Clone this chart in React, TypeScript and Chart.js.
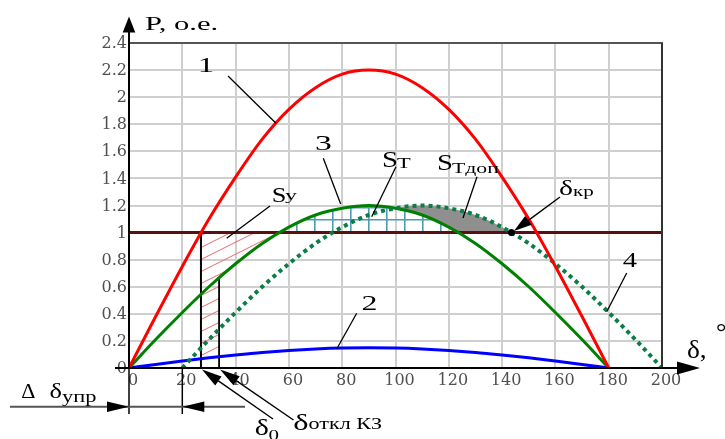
import { useEffect, useRef } from 'react';
import { Chart, registerables } from 'chart.js';
Chart.register(...registerables);

// ---- data ----
const ANGLES = [0, 10, 20, 30, 40, 50, 60, 70, 80, 90, 100, 110, 120, 130, 140, 150, 160, 170, 180];
const ANGLES_SHIFTED = [20, 30, 40, 50, 60, 70, 80, 90, 100, 110, 120, 130, 140, 150, 160, 170, 180, 190, 200];
const CURVE1_P = [0, 0.38, 0.75, 1.1, 1.41, 1.69, 1.91, 2.07, 2.17, 2.2, 2.17, 2.07, 1.91, 1.69, 1.41, 1.1, 0.75, 0.38, 0];
const CURVE2_P = [0, 0.026, 0.051, 0.075, 0.096, 0.115, 0.13, 0.141, 0.148, 0.15, 0.148, 0.141, 0.13, 0.115, 0.096, 0.075, 0.051, 0.026, 0];
const CURVE3_P = [0, 0.21, 0.41, 0.6, 0.77, 0.92, 1.04, 1.13, 1.18, 1.2, 1.18, 1.13, 1.04, 0.92, 0.77, 0.6, 0.41, 0.21, 0];
const CURVE4_P = [0, 0.21, 0.41, 0.6, 0.77, 0.92, 1.04, 1.13, 1.18, 1.2, 1.18, 1.13, 1.04, 0.92, 0.77, 0.6, 0.41, 0.21, 0];
const P_TURBINE = 1;
const DELTA_0 = 27;
const DELTA_OTKL = 33.8;
const DELTA_OTKL_TOP = 0.67;
const DELTA_KR = 143.5;
const DELTA_UPR = 20;
const X_TICKS = ['0', '20', '40', '60', '80', '100', '120', '140', '160', '180', '200'];
const Y_TICKS = ['0', '0.2', '0.4', '0.6', '0.8', '1', '1.2', '1.4', '1.6', '1.8', '2', '2.2', '2.4'];

// dataset indices
const I_RED = 0, I_DOT = 1, I_GREEN = 2, I_BLUE = 3;

function seg(ctx: CanvasRenderingContext2D, x1: number, y1: number, x2: number, y2: number, color: string, w: number) {
  ctx.beginPath();
  ctx.moveTo(x1, y1);
  ctx.lineTo(x2, y2);
  ctx.strokeStyle = color;
  ctx.lineWidth = w;
  ctx.stroke();
}
function tri(ctx: CanvasRenderingContext2D, a: number, b: number, c: number, d: number, e: number, f: number) {
  ctx.beginPath();
  ctx.moveTo(a, b);
  ctx.lineTo(c, d);
  ctx.lineTo(e, f);
  ctx.closePath();
  ctx.fillStyle = '#000';
  ctx.fill();
}
function arrow(ctx: CanvasRenderingContext2D, x1: number, y1: number, x2: number, y2: number, len: number, half: number) {
  const ang = Math.atan2(y2 - y1, x2 - x1);
  const bx = x2 - len * Math.cos(ang), by = y2 - len * Math.sin(ang);
  seg(ctx, x1, y1, bx, by, '#000', 1.4);
  tri(ctx, x2, y2, bx + half * Math.sin(ang), by - half * Math.cos(ang), bx - half * Math.sin(ang), by + half * Math.cos(ang));
}
function txt(ctx: CanvasRenderingContext2D, s: string, x: number, y: number, size: number, sx: number, align: CanvasTextAlign = 'center') {
  ctx.save();
  ctx.translate(x, y);
  ctx.scale(sx, 1);
  ctx.font = `${size}px "Liberation Serif", "Times New Roman", serif`;
  ctx.textAlign = align;
  ctx.textBaseline = 'alphabetic';
  ctx.fillStyle = '#000';
  ctx.fillText(s, 0, 0);
  ctx.restore();
}

function makePatterns() {
  const hc = document.createElement('canvas');
  hc.width = 24; hc.height = 12;
  const h = hc.getContext('2d')!;
  h.strokeStyle = '#e07a7a';
  h.lineWidth = 1.1;
  for (const off of [-12, 0, 12]) {
    h.beginPath();
    h.moveTo(-24, 24 + off);
    h.lineTo(48, -12 + off);
    h.stroke();
  }
  const gc = document.createElement('canvas');
  gc.width = 18; gc.height = 12;
  const g = gc.getContext('2d')!;
  g.strokeStyle = '#4f9bb3';
  g.lineWidth = 1.6;
  g.beginPath();
  g.moveTo(0.8, 0); g.lineTo(0.8, 12);
  g.moveTo(0, 0.8); g.lineTo(18, 0.8);
  g.stroke();
  return { hc, gc };
}

export default function App() {
  const ref = useRef<HTMLCanvasElement>(null);
  useEffect(() => {
    document.body.style.margin = '0';
    const canvas = ref.current!;
    const ctx0 = canvas.getContext('2d')!;
    const { hc, gc } = makePatterns();
    const hatch = ctx0.createPattern(hc, 'repeat')!;
    const grid = ctx0.createPattern(gc, 'repeat')!;
    grid.setTransform(new DOMMatrix([1, 0, 0, 1, 296, 219]));

    const pts = (xs: number[], ys: number[]) => xs.map((x, i) => ({ x, y: ys[i] }));

    const areas = {
      id: 'areas',
      beforeDatasetsDraw(chart: any) {
        const ctx: CanvasRenderingContext2D = chart.ctx;
        const { left, right, top, bottom } = chart.chartArea;
        const X = (v: number) => chart.scales.x.getPixelForValue(v);
        const Y = (v: number) => chart.scales.y.getPixelForValue(v);
        const y1 = Y(P_TURBINE), y0 = Y(0);
        const under = (idx: number) => {
          const meta = chart.getDatasetMeta(idx);
          const line = meta.dataset;
          line.updateControlPoints(chart.chartArea, 'x');
          const p = meta.data;
          line.path(ctx);
          ctx.lineTo(p[p.length - 1].x, y0 + 6);
          ctx.lineTo(p[0].x, y0 + 6);
          ctx.closePath();
        };
        // S_T
        ctx.save();
        ctx.beginPath(); ctx.rect(left, top, right - left, y1 - top); ctx.clip();
        ctx.beginPath(); under(I_GREEN);
        ctx.fillStyle = grid; ctx.fill();
        ctx.restore();
        // S_Tdop
        ctx.save();
        ctx.beginPath(); ctx.rect(left, top, right - left, y1 - top); ctx.clip();
        ctx.beginPath(); under(I_DOT); ctx.clip();
        ctx.beginPath(); ctx.rect(0, 0, chart.width, chart.height); under(I_GREEN); ctx.clip('evenodd');
        ctx.fillStyle = '#8f8f8f'; ctx.fillRect(left, top, right - left, bottom - top);
        ctx.restore();
        // S_y part A
        ctx.save();
        ctx.beginPath(); ctx.rect(X(DELTA_0), y1, X(DELTA_OTKL) - X(DELTA_0), y0 - y1); ctx.clip();
        ctx.beginPath(); ctx.rect(0, 0, chart.width, chart.height); under(I_BLUE); ctx.clip('evenodd');
        ctx.fillStyle = hatch; ctx.fillRect(left, top, right - left, bottom - top);
        ctx.restore();
        // S_y part B
        ctx.save();
        ctx.beginPath(); ctx.rect(X(DELTA_OTKL), y1, X(90) - X(DELTA_OTKL), y0 - y1); ctx.clip();
        ctx.beginPath(); ctx.rect(0, 0, chart.width, chart.height); under(I_GREEN); ctx.clip('evenodd');
        ctx.fillStyle = hatch; ctx.fillRect(left, top, right - left, bottom - top);
        ctx.restore();
      },
      afterDraw(chart: any) {
        const ctx: CanvasRenderingContext2D = chart.ctx;
        const { left, right, top, bottom } = chart.chartArea;
        const X = (v: number) => chart.scales.x.getPixelForValue(v);
        const Y = (v: number) => chart.scales.y.getPixelForValue(v);
        ctx.save();
        // frame
        seg(ctx, left, top, right + 1, top, '#555', 2);
        seg(ctx, right, top, right, bottom, '#333', 2);
        // axes with arrows
        seg(ctx, left, bottom, left, 31, '#000', 2);
        tri(ctx, left, 16.5, left - 6.3, 32.5, left + 6.3, 32.5);
        seg(ctx, 115, bottom, 680, bottom, '#000', 2);
        tri(ctx, 700, bottom, 677, bottom - 6.5, 677, bottom + 6.5);
        // Δδупр dimension
        const xa = X(0), xb = X(DELTA_UPR);
        seg(ctx, xa, bottom, xa, 414, '#000', 1.5);
        seg(ctx, xb, bottom, xb, 414, '#000', 1.5);
        seg(ctx, 10, 406.7, 245, 406.7, '#555', 2);
        tri(ctx, xa, 406.7, xa - 22, 401.5, xa - 22, 412);
        tri(ctx, xb, 406.7, xb + 22, 401.5, xb + 22, 412);
        // arrows
        arrow(ctx, 273, 419, X(DELTA_0) + 1, bottom + 1.5, 20, 5.5);
        arrow(ctx, 293.5, 420, X(DELTA_OTKL) + 1, bottom + 1.5, 20, 5.5);
        arrow(ctx, 560, 197, X(DELTA_KR) + 2.5, Y(P_TURBINE) - 1.5, 18, 5.5);
        // leader lines
        seg(ctx, 228, 76, 276, 123.3, '#000', 1.3);
        seg(ctx, 323.3, 158.3, 340.7, 204, '#000', 1.3);
        seg(ctx, 396, 166.7, 371.7, 216.7, '#000', 1.3);
        seg(ctx, 477, 176.7, 463, 218, '#000', 1.3);
        seg(ctx, 356.7, 313.3, 336.7, 349, '#000', 1.3);
        seg(ctx, 626.7, 273, 606.7, 311.7, '#000', 1.3);
        seg(ctx, 270, 206, 226.7, 238.3, '#000', 1.3);
        // texts
        txt(ctx, 'P, о.е.', 145, 30, 18, 1.7, 'left');
        txt(ctx, '1', 206, 72, 22, 1.5);
        txt(ctx, '2', 369.5, 310, 22, 1.45);
        txt(ctx, '3', 323.5, 150, 21, 1.6);
        txt(ctx, '4', 630, 266.7, 22, 1.3);
        txt(ctx, 'S', 279.2, 201.7, 22, 1.2);
        txt(ctx, 'у', 285, 200, 15, 1.6, 'left');
        txt(ctx, 'S', 390, 166.7, 24, 1.2);
        txt(ctx, 'Т', 397, 168.3, 15, 1.5, 'left');
        txt(ctx, 'S', 445, 169.5, 24, 1.2);
        txt(ctx, 'Тдоп', 452, 173, 15, 1.45, 'left');
        txt(ctx, 'δ', 566, 195, 22, 1.35);
        txt(ctx, 'кр', 573, 196, 15, 1.4, 'left');
        txt(ctx, 'Δ', 28.3, 398, 22, 1.0);
        txt(ctx, 'δ', 55.8, 398, 22, 1.2);
        txt(ctx, 'упр', 62, 402, 16, 1.4, 'left');
        txt(ctx, 'δ', 261.7, 435, 24, 1.25);
        txt(ctx, '0', 268.5, 440, 15, 1.4, 'left');
        txt(ctx, 'δ', 300.8, 430, 24, 1.35);
        txt(ctx, 'откл КЗ', 308.5, 428.5, 17, 1.3, 'left');
        txt(ctx, 'δ,', 687, 358, 26, 1.05, 'left');
        txt(ctx, '°', 716, 340, 26, 1.0, 'left');
        ctx.restore();
      },
    };

    const curve = (data: any, color: string, order: number, extra: any = {}) => ({
      data, borderColor: color, borderWidth: 3, pointRadius: 0, fill: false,
      cubicInterpolationMode: 'monotone', order, ...extra,
    });

    const chart = new Chart(canvas, {
      type: 'line',
      data: {
        datasets: [
          curve(pts(ANGLES, CURVE1_P), '#ff0000', 1),
          curve(pts(ANGLES_SHIFTED, CURVE4_P), '#0b7d45', 2, { borderWidth: 4, borderDash: [4, 4] }),
          curve(pts(ANGLES, CURVE3_P), '#008000', 3),
          curve(pts(ANGLES, CURVE2_P), '#0000ff', 4),
          curve([{ x: 0, y: P_TURBINE }, { x: 200, y: P_TURBINE }], '#5b0f0f', 6, { cubicInterpolationMode: 'default', tension: 0 }),
          curve([{ x: DELTA_0, y: 0 }, { x: DELTA_0, y: P_TURBINE }], '#000', 5, { cubicInterpolationMode: 'default', tension: 0, borderWidth: 2 }),
          curve([{ x: DELTA_OTKL, y: 0 }, { x: DELTA_OTKL, y: DELTA_OTKL_TOP }], '#000', 5, { cubicInterpolationMode: 'default', tension: 0, borderWidth: 1.8 }),
          { data: [{ x: DELTA_KR, y: P_TURBINE }], showLine: false, pointRadius: 3.5, pointBackgroundColor: '#000', pointBorderWidth: 0, order: 0 },
        ] as any,
      },
      options: {
        animation: false,
        responsive: false,
        devicePixelRatio: 1,
        layout: { padding: { top: 43, right: 63, left: 0, bottom: 0 } },
        plugins: { legend: { display: false }, tooltip: { enabled: false } },
        scales: {
          x: {
            type: 'linear', min: 0, max: 200,
            afterFit: (s: any) => { s.height = 71; },
            ticks: {
              stepSize: 20, autoSkip: false, maxRotation: 0, padding: 3, labelOffset: 4,
              color: '#505050', font: { family: '"DejaVu Serif"', size: 16 },
              callback: (v: any) => X_TICKS[Math.round(Number(v) / 20)],
            },
            grid: { color: '#cfcfcf', lineWidth: 2, drawTicks: false },
            border: { display: true, color: '#000', width: 2 },
          },
          y: {
            type: 'linear', min: 0, max: 2.4,
            afterFit: (s: any) => { s.width = 129; },
            ticks: {
              stepSize: 0.2, autoSkip: false, padding: 2, labelOffset: 1,
              color: '#505050', font: { family: '"DejaVu Serif"', size: 16 },
              callback: (v: any) => Y_TICKS[Math.round(Number(v) / 0.2)],
            },
            grid: { color: '#cfcfcf', lineWidth: 2, drawTicks: false },
            border: { display: true, color: '#000', width: 2 },
          },
        },
      } as any,
      plugins: [areas as any],
    });
    return () => chart.destroy();
  }, []);
  return (
    <div style={{ width: 725, height: 439, background: '#fff' }}>
      <canvas ref={ref} width={725} height={439} style={{ display: 'block' }} />
    </div>
  );
}
